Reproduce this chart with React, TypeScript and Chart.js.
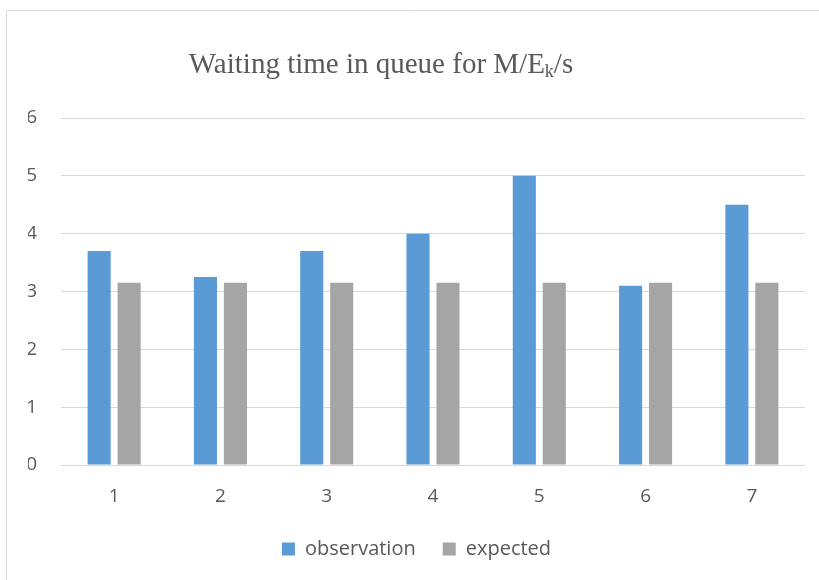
import React, { useEffect, useRef } from "react";
import { Chart, registerables } from "chart.js";

Chart.register(...registerables);

const categories = ["1", "2", "3", "4", "5", "6", "7"];
const observation = [3.7, 3.25, 3.7, 4.0, 5.0, 3.1, 4.5];
const expected = [3.15, 3.15, 3.15, 3.15, 3.15, 3.15, 3.15];
const yTicks = [0, 1, 2, 3, 4, 5, 6];

const TEXT = "#595959";
const SANS = "'Open Sans', 'Liberation Sans', sans-serif";

const framePlugin = {
  id: "frame",
  beforeDraw(chart: any) {
    const ctx = chart.ctx;
    ctx.save();
    ctx.strokeStyle = "#d9d9d9";
    ctx.lineWidth = 1;
    ctx.beginPath();
    ctx.moveTo(6.5, 700);
    ctx.lineTo(6.5, 10.5);
    ctx.lineTo(900, 10.5);
    ctx.stroke();
    ctx.restore();
  },
};

const titlePlugin = {
  id: "subTitle",
  afterDraw(chart: any) {
    const ctx = chart.ctx;
    ctx.save();
    ctx.fillStyle = TEXT;
    ctx.textBaseline = "alphabetic";
    ctx.textAlign = "left";
    const big = "29px 'Liberation Serif', 'Times New Roman', serif";
    const small = "18px 'Liberation Serif', 'Times New Roman', serif";
    const p1 = "Waiting time in queue for M/E";
    const p2 = "k";
    const p3 = "/s";
    ctx.font = big;
    const w1 = ctx.measureText(p1).width;
    const w3 = ctx.measureText(p3).width;
    ctx.font = small;
    const w2 = ctx.measureText(p2).width;
    const total = w1 + w2 + w3;
    const cx = 381;
    let x = cx - total / 2;
    const y = 73;
    ctx.font = big;
    ctx.fillText(p1, x, y);
    x += w1;
    ctx.font = small;
    ctx.fillText(p2, x, y + 4);
    x += w2;
    ctx.font = big;
    ctx.fillText(p3, x, y);
    ctx.restore();
  },
};

export default function App() {
  const ref = useRef<HTMLCanvasElement | null>(null);
  useEffect(() => {
    if (!ref.current) return;
    const chart = new Chart(ref.current, {
      type: "bar",
      data: {
        labels: categories,
        datasets: [
          {
            label: "observation",
            data: observation,
            backgroundColor: "#5B9BD5",
            borderWidth: 0,
          },
          {
            label: "expected",
            data: expected,
            backgroundColor: "#A5A5A5",
            borderWidth: 0,
          },
        ],
      },
      options: {
        animation: false,
        responsive: false,
        maintainAspectRatio: false,
        layout: { padding: { left: 28, right: 14, top: 118, bottom: 11 } },
        datasets: {
          bar: { categoryPercentage: 0.564, barPercentage: 0.77 },
        },
        scales: {
          x: {
            grid: { display: false, drawTicks: false },
            border: { display: false },
            ticks: {
              color: TEXT,
              font: { family: SANS, size: 19 },
              padding: 20,
            },
            afterFit: (s: any) => {
              s.height = 47;
            },
          },
          y: {
            min: 0,
            max: 6,
            afterBuildTicks: (s: any) => {
              s.ticks = yTicks.map((v) => ({ value: v }));
            },
            grid: { color: "#d9d9d9", lineWidth: 1, drawTicks: false },
            border: { display: false },
            ticks: {
              color: TEXT,
              font: { family: SANS, size: 19 },
              padding: 24,
            },
            afterFit: (s: any) => {
              s.width = 33;
            },
          },
        },
        plugins: {
          title: { display: false },
          tooltip: { enabled: false },
          legend: {
            position: "bottom",
            labels: {
              color: TEXT,
              font: { family: SANS, size: 20 },
              boxWidth: 13,
              boxHeight: 13,
              padding: 27,
            },
          },
        },
      },
      plugins: [framePlugin, titlePlugin],
    });
    return () => chart.destroy();
  }, []);
  return (
    <div style={{ position: "fixed", left: 0, top: 0, width: 819, height: 580, background: "#fff" }}>
      <canvas ref={ref} width={819} height={580} style={{ display: "block", width: 819, height: 580 }} />
    </div>
  );
}
